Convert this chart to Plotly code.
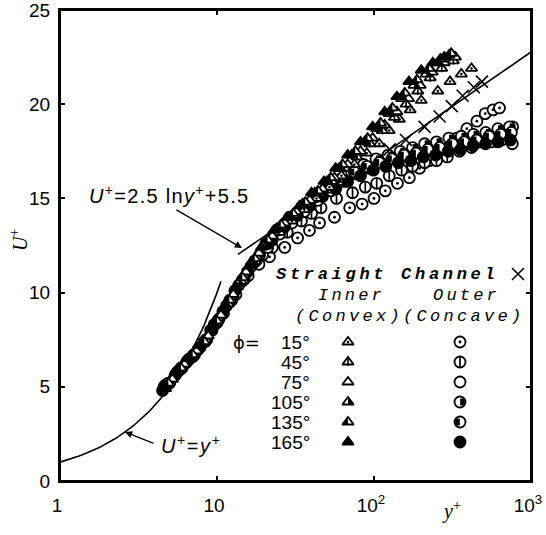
import numpy as np
import plotly.graph_objects as go

# ---------------- data ----------------
straight_y = [126, 160, 210, 262, 313, 367, 432, 487]
straight_u = [17.6, 18.1, 18.8, 19.35, 19.9, 20.45, 20.9, 21.2]

# Inner wall (convex) - triangles
in15_y = [4.9, 5.8, 6.9, 8.2, 9.8, 11.8, 14.2, 17.0, 20.5, 25, 30, 36, 43, 52, 62, 75, 90, 108, 125, 145, 170, 200, 255, 305, 360, 418]
in15_u = [5.2, 6.0, 6.6, 7.3, 8.4, 9.4, 10.6, 11.6, 12.5, 13.2, 13.8, 14.4, 15.0, 15.6, 16.2, 16.8, 17.4, 17.9, 18.6, 19.2, 19.7, 20.2, 20.7, 21.2, 21.6, 21.9]
in45_y = [5.0, 6.0, 7.1, 8.5, 10.2, 12.2, 14.8, 17.8, 21.5, 26, 31, 37, 45, 54, 65, 78, 94, 113, 135, 160, 190, 228, 270, 320]
in45_u = [5.3, 6.1, 6.8, 7.5, 8.6, 9.7, 10.9, 11.9, 12.8, 13.5, 14.1, 14.7, 15.3, 15.9, 16.6, 17.2, 17.9, 18.6, 19.3, 20.0, 20.7, 21.4, 21.9, 22.3]
in75_y = [5.2, 6.2, 7.4, 8.8, 10.6, 12.7, 15.3, 18.5, 22.5, 27, 32, 39, 47, 56, 68, 82, 98, 117, 140, 166, 197, 235, 280, 330]
in75_u = [5.4, 6.2, 6.9, 7.7, 8.8, 9.9, 11.1, 12.1, 13.0, 13.7, 14.3, 14.9, 15.5, 16.1, 16.8, 17.5, 18.2, 18.9, 19.6, 20.3, 21.0, 21.7, 22.2, 22.5]
in105_y = [4.8, 5.7, 6.7, 8.0, 9.5, 11.4, 13.7, 16.5, 20.0, 24, 29, 35, 42, 50, 60, 72, 87, 104, 125, 150, 180, 215, 255, 300]
in105_u = [5.1, 5.9, 6.6, 7.3, 8.3, 9.3, 10.5, 11.6, 12.6, 13.4, 14.0, 14.7, 15.3, 15.9, 16.6, 17.3, 18.0, 18.7, 19.5, 20.3, 21.0, 21.6, 22.2, 22.6]
in135_y = [4.9, 5.9, 7.0, 8.3, 10.0, 12.0, 14.5, 17.4, 21.0, 25.5, 30.5, 36.5, 44, 53, 63, 76, 91, 110, 131, 157, 188, 224, 265, 310]
in135_u = [5.2, 6.0, 6.7, 7.4, 8.5, 9.6, 10.8, 11.8, 12.8, 13.6, 14.2, 14.8, 15.4, 16.1, 16.8, 17.5, 18.2, 19.0, 19.8, 20.6, 21.3, 21.9, 22.4, 22.7]
in165_y = [4.7, 5.6, 6.6, 7.8, 9.3, 11.1, 13.3, 16.0, 19.2, 23, 28, 33.5, 40, 48, 57, 68, 82, 98, 117, 140, 167, 200, 237, 280]
in165_u = [4.9, 5.8, 6.5, 7.2, 8.2, 9.2, 10.3, 11.4, 12.4, 13.3, 14.0, 14.6, 15.3, 15.9, 16.6, 17.3, 18.0, 18.8, 19.6, 20.4, 21.2, 21.8, 22.2, 22.5]

# Outer wall (concave) - circles
out15_y = [4.6, 5.5, 6.5, 7.8, 9.3, 11.0, 13.2, 15.8, 18.5, 21.6, 27, 32.6, 38.8, 45, 56, 70, 84, 100, 118, 141, 168, 195, 225, 281, 336, 390, 452, 511, 573, 630]
out15_u = [5.0, 5.7, 6.4, 7.1, 8.0, 8.9, 9.9, 10.9, 11.5, 11.9, 12.4, 12.9, 13.3, 13.7, 14.0, 14.5, 14.7, 15.0, 15.4, 15.8, 16.1, 16.6, 17.0, 17.55, 18.2, 18.7, 19.1, 19.5, 19.7, 19.8]
out45_y = [4.7, 5.6, 6.7, 8.0, 9.6, 11.5, 13.8, 16.5, 19.5, 22.5, 28, 34.5, 40, 46, 57.7, 73, 88, 104, 125, 150, 176, 210, 250, 293, 350, 418, 500, 600, 690, 764]
out45_u = [5.1, 5.8, 6.5, 7.3, 8.3, 9.3, 10.4, 11.4, 12.0, 12.4, 13.2, 13.8, 14.2, 14.5, 15.0, 15.3, 15.6, 15.8, 16.2, 16.5, 16.7, 16.9, 17.0, 17.2, 17.5, 17.7, 18.0, 18.3, 18.6, 18.8]
out75_y = [5.0, 6.0, 7.2, 8.6, 10.3, 12.4, 14.9, 17.8, 21, 25, 30, 36, 44, 53, 64, 77, 93, 112, 135, 162, 195, 235, 280, 336, 400, 470, 560, 650, 760]
out75_u = [5.2, 6.0, 6.7, 7.5, 8.6, 9.6, 10.7, 11.7, 12.4, 13.1, 13.7, 14.3, 14.9, 15.4, 15.9, 16.3, 16.6, 16.9, 17.1, 17.3, 17.4, 17.5, 17.6, 17.8, 17.9, 18.0, 18.0, 18.1, 17.9]
out105_y = [4.8, 5.8, 7.0, 8.4, 10.0, 12.0, 14.4, 17.2, 20.5, 24, 29, 35, 42, 50, 60, 72, 86, 103, 123, 147, 176, 210, 250, 300, 360, 430, 515, 615, 730]
out105_u = [5.1, 5.9, 6.6, 7.4, 8.4, 9.5, 10.6, 11.6, 12.6, 13.3, 14.0, 14.6, 15.1, 15.6, 16.0, 16.4, 16.8, 17.1, 17.3, 17.5, 17.7, 17.9, 18.0, 18.2, 18.3, 18.4, 18.5, 18.7, 18.8]
out135_y = [4.9, 5.9, 7.1, 8.5, 10.1, 12.1, 14.6, 17.5, 21, 25, 30, 36, 43, 52, 62, 75, 90, 108, 130, 155, 185, 220, 262, 315, 375, 450, 540, 640, 750]
out135_u = [5.2, 6.0, 6.7, 7.5, 8.5, 9.6, 10.7, 11.7, 12.6, 13.4, 14.0, 14.6, 15.1, 15.6, 16.0, 16.4, 16.7, 16.9, 17.1, 17.3, 17.4, 17.6, 17.7, 17.9, 18.0, 18.1, 18.3, 18.4, 18.5]
out165_y = [4.5, 5.4, 6.4, 7.6, 9.1, 10.9, 13.0, 15.6, 18.7, 22.5, 27, 32.5, 39, 47, 57, 68, 82, 99, 119, 143, 172, 206, 247, 297, 356, 428, 513, 616, 740]
out165_u = [4.8, 5.6, 6.3, 7.0, 8.0, 9.0, 10.1, 11.1, 12.0, 12.8, 13.5, 14.1, 14.6, 15.1, 15.5, 15.9, 16.2, 16.5, 16.7, 16.9, 17.0, 17.2, 17.3, 17.5, 17.6, 17.8, 17.9, 18.0, 18.1]

phi_labels = ["15°", "45°", "75°", "105°", "135°", "165°"]
x_tickvals = [1, 10, 100, 1000]
x_ticktext = ["1", "10", "10<sup>2</sup>", "10<sup>3</sup>"]
y_tickvals = [0, 5, 10, 15, 20, 25]

# analytical laws shown on the chart
linear_range = (1.0, 10.6)      # U+ = y+
log_range = (13.6, 1000.0)      # U+ = 2.5 ln y+ + 5.5
KAPPA_INV, B_CONST = 2.5, 5.5

# ---------------- figure ----------------
W, H = 546, 535
L, R, T, B = 60, 15, 10, 54
PW, PH = W - L - R, H - T - B

def px(xp, yp):
    """page pixel -> paper fraction (for layout items only)"""
    return (xp - L) / PW, (H - B - yp) / PH

BLACK = "black"
LW = 1.8
fig = go.Figure()

yl = np.logspace(np.log10(linear_range[0]), np.log10(linear_range[1]), 60)
fig.add_trace(go.Scatter(x=yl, y=yl, mode="lines", line=dict(color=BLACK, width=1.6), hoverinfo="skip"))
yg = np.logspace(np.log10(log_range[0]), np.log10(log_range[1]), 60)
fig.add_trace(go.Scatter(x=yg, y=KAPPA_INV * np.log(yg) + B_CONST, mode="lines",
                         line=dict(color=BLACK, width=1.6), hoverinfo="skip"))

TRI = 10
CIR = 11

def style(kind, size):
    """list of marker layers for a symbol kind"""
    base_t = dict(symbol="triangle-up", size=size, color="white", line=dict(width=LW, color=BLACK))
    base_c = dict(symbol="circle", size=size, color="white", line=dict(width=LW, color=BLACK))
    half_t = dict(size=size * 0.68, standoff=size * 0.204, color=BLACK, line=dict(width=0))
    half_c = dict(symbol="line-ew", size=size * 0.45, standoff=size * 0.22, color=BLACK,
                  line=dict(width=size * 0.42, color=BLACK))
    if kind == "tri15":
        return [base_t, dict(symbol="circle", size=2.5, color=BLACK, line=dict(width=0))]
    if kind == "tri45":
        return [base_t, dict(symbol="line-ns", size=size * 0.55, color=BLACK, line=dict(width=1.6, color=BLACK))]
    if kind == "tri75":
        return [base_t]
    if kind == "tri105":
        return [base_t, dict(half_t, symbol="triangle-nw", angle=-90)]
    if kind == "tri135":
        return [base_t, dict(half_t, symbol="triangle-ne", angle=90)]
    if kind == "tri165":
        return [dict(symbol="triangle-up", size=size, color=BLACK, line=dict(width=LW, color=BLACK))]
    if kind == "cir15":
        return [base_c, dict(symbol="circle", size=2.8, color=BLACK, line=dict(width=0))]
    if kind == "cir45":
        return [base_c, dict(symbol="line-ns", size=size * 0.62, color=BLACK, line=dict(width=1.7, color=BLACK))]
    if kind == "cir75":
        return [base_c]
    if kind == "cir105":
        return [base_c, dict(half_c, angle=-90)]
    if kind == "cir135":
        return [base_c, dict(half_c, angle=90)]
    if kind == "cir165":
        return [dict(symbol="circle", size=size, color=BLACK, line=dict(width=LW, color=BLACK))]
    if kind == "cross":
        return [dict(symbol="x-thin-open", size=size, color=BLACK, line=dict(width=1.6, color=BLACK))]

def add_series(xs, ys, kind, size, xa="x", ya="y"):
    for m in style(kind, size):
        fig.add_trace(go.Scatter(x=xs, y=ys, mode="markers", marker=m, xaxis=xa, yaxis=ya,
                                 hoverinfo="skip", showlegend=False))

outer = [(out15_y, out15_u, "cir15"), (out45_y, out45_u, "cir45"), (out75_y, out75_u, "cir75"),
         (out105_y, out105_u, "cir105"), (out135_y, out135_u, "cir135"), (out165_y, out165_u, "cir165")]
inner = [(in15_y, in15_u, "tri15"), (in45_y, in45_u, "tri45"), (in75_y, in75_u, "tri75"),
         (in105_y, in105_u, "tri105"), (in135_y, in135_u, "tri135"), (in165_y, in165_u, "tri165")]
for xs, ys, k in outer:
    add_series(xs, ys, k, CIR)
for xs, ys, k in inner:
    add_series(xs, ys, k, TRI)
add_series(straight_y, straight_u, "cross", 12)

# ---------------- legend (overlay paper-like axes) ----------------
row_y = [342, 362, 382, 402, 422, 442]
tri_kinds = ["tri15", "tri45", "tri75", "tri105", "tri135", "tri165"]
cir_kinds = ["cir15", "cir45", "cir75", "cir105", "cir135", "cir165"]
for ry, tk, ck in zip(row_y, tri_kinds, cir_kinds):
    a = px(348, ry)
    add_series([a[0]], [a[1]], tk, TRI, "x2", "y2")
    b = px(460, ry)
    add_series([b[0]], [b[1]], ck, CIR, "x2", "y2")
c = px(518, 274)
add_series([c[0]], [c[1]], "cross", 12, "x2", "y2")

MONO = dict(family="Liberation Mono", size=17, color=BLACK)
SANS = dict(family="Liberation Sans", size=19, color=BLACK)
ann = []

def text(xp, yp, s, font, xanchor="left", angle=0):
    x, y = px(xp, yp)
    ann.append(dict(x=x, y=y, xref="paper", yref="paper", text=s, showarrow=False,
                    xanchor=xanchor, yanchor="middle", font=font, textangle=angle))

text(274, 274, '<span style="letter-spacing:3.7px"><i><b>Straight Channel</b></i></span>', MONO)
text(351, 295, '<span style="letter-spacing:3.2px"><i>Inner</i></span>', MONO, "center")
text(466, 295, '<span style="letter-spacing:3.2px"><i>Outer</i></span>', MONO, "center")
text(293, 316, '<span style="letter-spacing:3.3px"><i>(Convex)(Concave)</i></span>', MONO)
text(231, 342, "ϕ=", dict(family="DejaVu Sans", size=18, color=BLACK))
for ry, lab in zip(row_y, phi_labels):
    text(312, ry, lab, SANS, "right")

text(19, 240, "<i>U</i><sup>+</sup>", dict(family="Liberation Serif", size=20, color=BLACK), "center", -90)
text(451, 510, "<i>y</i><sup>+</sup>", dict(family="Liberation Serif", size=20, color=BLACK), "center")

FORM = dict(family="Liberation Sans", size=20, color=BLACK)
text(87, 194, '<span style="letter-spacing:1.3px"><i>U</i><sup>+</sup>=2.5 ln<i>y</i><sup>+</sup>+5.5</span>', FORM)
text(159, 444, '<span style="letter-spacing:1.6px"><i>U</i><sup>+</sup>=<i>y</i><sup>+</sup></span>', FORM)

def arrow(tip, tail):
    x, y = px(*tip)
    ann.append(dict(x=x, y=y, xref="paper", yref="paper", text="", showarrow=True,
                    ax=tail[0] - tip[0], ay=tail[1] - tip[1], arrowhead=2, arrowsize=1.1,
                    arrowwidth=1.3, arrowcolor=BLACK))

arrow((242, 248), (175, 209))
arrow((125, 432), (155, 444))

axis_common = dict(showgrid=False, zeroline=False, showline=True, linewidth=2, linecolor=BLACK,
                   ticks="inside", ticklen=5, tickwidth=1.5, tickcolor=BLACK, mirror="ticks",
                   tickfont=SANS, automargin=False, ticklabeloverflow="allow")

fig.update_layout(
    width=W, height=H, margin=dict(l=L, r=R, t=T, b=B, autoexpand=False),
    paper_bgcolor="white", plot_bgcolor="white", showlegend=False,
    xaxis=dict(type="log", range=[0, 3], tickvals=x_tickvals, ticktext=x_ticktext,
               ticklabelshift=-3, ticklabelstandoff=6, **axis_common),
    yaxis=dict(range=[0, 25], tickvals=y_tickvals, ticklabelstandoff=4, **axis_common),
    xaxis2=dict(overlaying="x", range=[0, 1], visible=False),
    yaxis2=dict(overlaying="y", range=[0, 1], visible=False),
    shapes=[dict(type="rect", xref="paper", yref="paper", x0=0, y0=0, x1=1, y1=1,
                 line=dict(color=BLACK, width=2), fillcolor="rgba(0,0,0,0)", layer="above")],
    annotations=ann,
)

fig.write_html("out.html", config={"displayModeBar": False},
               post_script="document.body.style.margin='0px';")
